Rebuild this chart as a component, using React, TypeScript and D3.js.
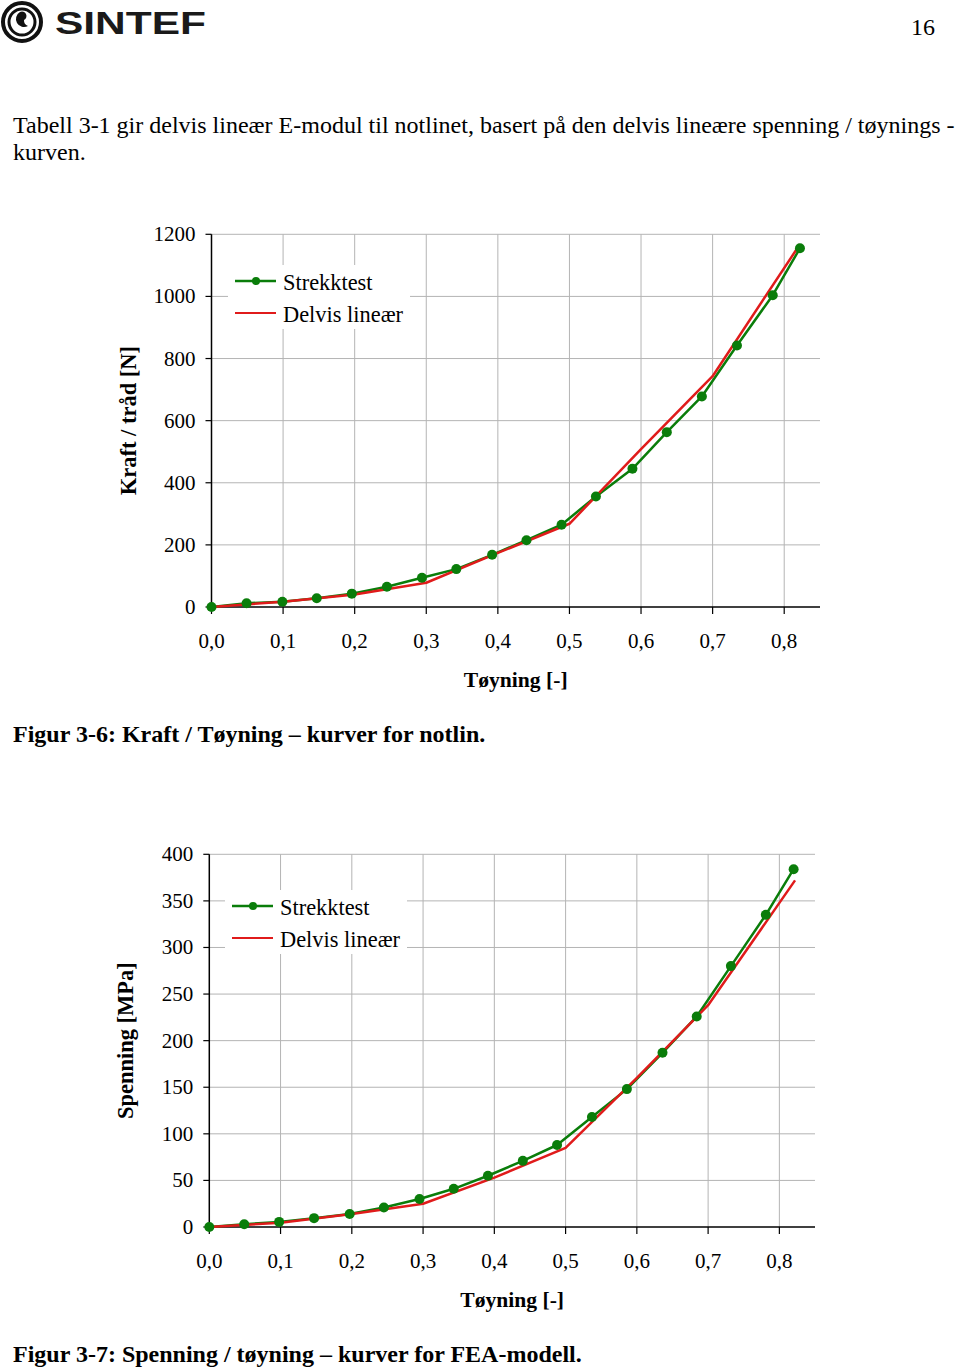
import React from "react";
import * as d3 from "d3";

// ---------- DATA ----------
const xTicks = [0, 0.1, 0.2, 0.3, 0.4, 0.5, 0.6, 0.7, 0.8];

// Figur 3-6 : Kraft / tråd [N]
const forceTestStrain = [0, 0.049, 0.099, 0.147, 0.196, 0.245, 0.294, 0.342, 0.392, 0.44, 0.489, 0.537, 0.588, 0.636, 0.685, 0.734, 0.784, 0.822];
const forceTestValues = [0, 12, 17, 28, 43, 65, 94, 122, 168, 215, 265, 356, 445, 563, 678, 842, 1004, 1155];
const forceLinStrain = [0, 0.1, 0.2, 0.3, 0.4, 0.5, 0.6, 0.7, 0.822];
const forceLinValues = [0, 17, 40, 78, 174, 268, 508, 743, 1168];
const forceYTicks = [0, 200, 400, 600, 800, 1000, 1200];

// Figur 3-7 : Spenning [MPa]
const stressTestStrain = [0, 0.049, 0.098, 0.147, 0.197, 0.245, 0.295, 0.343, 0.391, 0.44, 0.488, 0.537, 0.586, 0.636, 0.684, 0.732, 0.781, 0.82];
const stressTestValues = [0, 3, 5.5, 9.5, 14, 21, 30, 41, 55, 71, 88, 118, 148, 187, 226, 280, 335, 384];
const stressLinStrain = [0, 0.1, 0.2, 0.3, 0.4, 0.5, 0.6, 0.7, 0.822];
const stressLinValues = [0, 4.5, 14, 25, 53, 85, 160, 238, 372];
const stressYTicks = [0, 50, 100, 150, 200, 250, 300, 350, 400];

const seriesNames = ["Strekktest", "Delvis lineær"];

const SERIF = "'Liberation Serif', 'Times New Roman', serif";
const GREEN = "#0a7d0a";
const RED = "#e01b1b";
const GRID = "#b4b4b4";

type ChartProps = {
  left: number;
  right: number;
  top: number;
  bottom: number;
  yMax: number;
  yTicks: number[];
  testX: number[];
  testY: number[];
  linX: number[];
  linY: number[];
  yTitle: string;
  yTitleX: number;
  legendX: number;
  legendY: number;
};

const fmt = (v: number) => v.toFixed(1).replace(".", ",");

function Chart(p: ChartProps) {
  const x = d3.scaleLinear().domain([0, 0.85]).range([p.left, p.right]);
  const y = d3.scaleLinear().domain([0, p.yMax]).range([p.bottom, p.top]);
  const line = d3
    .line<[number, number]>()
    .x((d) => x(d[0]))
    .y((d) => y(d[1]));
  const test: [number, number][] = p.testX.map((v, i) => [v, p.testY[i]]);
  const lin: [number, number][] = p.linX.map((v, i) => [v, p.linY[i]]);
  const midX = (p.left + p.right) / 2;
  const midY = (p.top + p.bottom) / 2;
  return (
    <g>
      {/* grid */}
      {p.yTicks.filter((t) => t > 0).map((t) => (
        <line key={"gy" + t} x1={p.left} x2={p.right} y1={y(t)} y2={y(t)} stroke={GRID} strokeWidth={1} />
      ))}
      {xTicks.filter((t) => t > 0).map((t) => (
        <line key={"gx" + t} x1={x(t)} x2={x(t)} y1={p.top} y2={p.bottom} stroke={GRID} strokeWidth={1} />
      ))}
      {/* legend box */}
      <rect x={p.legendX} y={p.legendY} width={182} height={64} fill="#fff" />
      {/* axes */}
      <line x1={p.left} x2={p.left} y1={p.top} y2={p.bottom} stroke="#000" strokeWidth={1.5} />
      <line x1={p.left} x2={p.right} y1={p.bottom} y2={p.bottom} stroke="#000" strokeWidth={1.5} />
      {p.yTicks.map((t) => (
        <g key={"yt" + t}>
          <line x1={p.left - 6} x2={p.left} y1={y(t)} y2={y(t)} stroke="#000" strokeWidth={1.2} />
          <text x={p.left - 16} y={y(t) + 7} textAnchor="end" fontFamily={SERIF} fontSize={21}>
            {t}
          </text>
        </g>
      ))}
      {xTicks.map((t) => (
        <g key={"xt" + t}>
          <line x1={x(t)} x2={x(t)} y1={p.bottom} y2={p.bottom + 7} stroke="#000" strokeWidth={1.2} />
          <text x={x(t)} y={p.bottom + 41} textAnchor="middle" fontFamily={SERIF} fontSize={21}>
            {fmt(t)}
          </text>
        </g>
      ))}
      {/* series */}
      <path d={line(test) || ""} fill="none" stroke={GREEN} strokeWidth={2.5} strokeLinejoin="round" />
      <path d={line(lin) || ""} fill="none" stroke={RED} strokeWidth={2.5} strokeLinejoin="round" />
      {test.map((d, i) => (
        <circle key={"m" + i} cx={x(d[0])} cy={y(d[1])} r={5} fill={GREEN} />
      ))}
      {/* legend */}
      <line x1={p.legendX + 7} x2={p.legendX + 48} y1={p.legendY + 16} y2={p.legendY + 16} stroke={GREEN} strokeWidth={2.5} />
      <circle cx={p.legendX + 28} cy={p.legendY + 16} r={4} fill={GREEN} />
      <text x={p.legendX + 55} y={p.legendY + 25} fontFamily={SERIF} fontSize={22.4}>
        {seriesNames[0]}
      </text>
      <line x1={p.legendX + 7} x2={p.legendX + 48} y1={p.legendY + 48} y2={p.legendY + 48} stroke={RED} strokeWidth={2} />
      <text x={p.legendX + 55} y={p.legendY + 57} fontFamily={SERIF} fontSize={22.4}>
        {seriesNames[1]}
      </text>
      {/* titles */}
      <text x={midX} y={p.bottom + 80} textAnchor="middle" fontFamily={SERIF} fontSize={21.6} fontWeight="bold">
        Tøyning [-]
      </text>
      <text
        transform={`translate(${p.yTitleX},${midY}) rotate(-90)`}
        textAnchor="middle"
        fontFamily={SERIF}
        fontSize={22.5}
        fontWeight="bold"
      >
        {p.yTitle}
      </text>
    </g>
  );
}

export default function App() {
  return (
    <svg
      width={960}
      height={1369}
      style={{ position: "absolute", left: 0, top: 0, display: "block", background: "#fff" }}
    >
      <rect width={960} height={1369} fill="#fff" />
      {/* logo */}
      <g>
        <circle cx={22} cy={22} r={19} fill="none" stroke="#111" strokeWidth={4} />
        <circle cx={22} cy={22} r={13} fill="none" stroke="#111" strokeWidth={3} />
        <path d="M20 12 a8 8 0 1 0 8 14 a6 6 0 0 1 -4 -6 a4 4 0 0 0 -4 -8 z" fill="#111" />
        <text x={55} y={34} fontFamily="'Liberation Sans', Arial, sans-serif" fontWeight="bold" fontSize={32} textLength={151} lengthAdjust="spacingAndGlyphs" fill="#1a1a1a">
          SINTEF
        </text>
      </g>
      <text x={935} y={35} textAnchor="end" fontFamily={SERIF} fontSize={24}>
        16
      </text>
      <text x={13} y={133} fontFamily={SERIF} fontSize={24}>
        Tabell 3-1 gir delvis lineær E-modul til notlinet, basert på den delvis lineære spenning / tøynings -
      </text>
      <text x={13} y={160} fontFamily={SERIF} fontSize={24}>
        kurven.
      </text>

      <Chart
        left={211.5}
        right={820}
        top={234.3}
        bottom={607}
        yMax={1200}
        yTicks={forceYTicks}
        testX={forceTestStrain}
        testY={forceTestValues}
        linX={forceLinStrain}
        linY={forceLinValues}
        yTitle="Kraft / tråd [N]"
        yTitleX={136}
        legendX={228}
        legendY={265}
      />
      <text x={13} y={742} fontFamily={SERIF} fontSize={24} fontWeight="bold">
        Figur 3-6: Kraft / Tøyning – kurver for notlin.
      </text>

      <Chart
        left={209.3}
        right={815}
        top={854.3}
        bottom={1227}
        yMax={400}
        yTicks={stressYTicks}
        testX={stressTestStrain}
        testY={stressTestValues}
        linX={stressLinStrain}
        linY={stressLinValues}
        yTitle="Spenning [MPa]"
        yTitleX={133}
        legendX={225}
        legendY={890}
      />
      <text x={13} y={1362} fontFamily={SERIF} fontSize={24} fontWeight="bold">
        Figur 3-7: Spenning / tøyning – kurver for FEA-modell.
      </text>
    </svg>
  );
}
